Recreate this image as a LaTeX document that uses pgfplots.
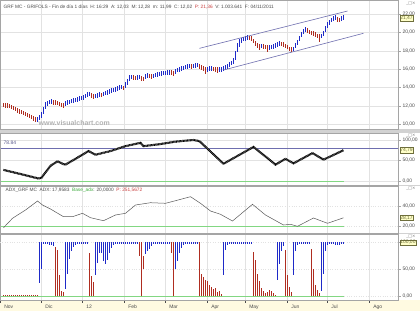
\documentclass[border=0pt]{standalone}
\usepackage{fontspec}
\setmainfont{Liberation Sans}
\newfontfamily\dv{DejaVu Sans}
\usepackage{pgfplots}
\usepackage{pgfplotstable}
\pgfplotsset{compat=1.18}
\definecolor{upc}{RGB}{30,42,200}
\definecolor{dnc}{RGB}{175,45,32}
\definecolor{chan}{RGB}{110,110,175}
\definecolor{grn}{RGB}{130,215,130}
\definecolor{grd}{RGB}{226,226,226}
\definecolor{bord}{RGB}{165,165,165}
\definecolor{boxf}{RGB}{255,255,200}
\definecolor{boxd}{RGB}{110,110,60}
\definecolor{txt}{RGB}{75,75,75}
\definecolor{strip}{RGB}{255,250,225}
\definecolor{sep}{RGB}{210,210,210}
\definecolor{red2}{RGB}{200,60,60}
\definecolor{grn2}{RGB}{60,170,60}

\pgfplotstableread{
x m d e
3 12.10 0 0.25
5 12.05 0 0.25
7 12.00 0 0.25
9 11.95 0 0.25
11 11.85 0 0.25
13 11.75 0 0.25
15 11.62 0 0.25
17 11.50 0 0.25
19 11.38 0 0.25
21 11.30 0 0.25
23 11.20 0 0.25
25 11.10 0 0.25
27 11.00 0 0.25
29 10.88 0 0.25
31 10.78 0 0.25
33 10.62 0 0.25
35 10.48 0 0.25
37 10.52 1 0.25
39 10.70 1 0.30
41 11.00 1 0.35
43 11.50 1 0.40
45 12.00 1 0.40
47 12.25 1 0.30
49 12.40 1 0.25
51 12.45 1 0.25
53 12.38 0 0.25
55 12.32 0 0.25
57 12.28 0 0.25
59 12.20 0 0.25
61 12.10 0 0.25
63 12.05 0 0.25
65 12.25 1 0.25
67 12.35 1 0.25
69 12.42 1 0.25
71 12.50 1 0.25
73 12.58 1 0.25
75 12.62 1 0.25
77 12.70 1 0.25
79 12.78 1 0.25
81 12.82 1 0.25
83 12.90 1 0.25
85 13.05 1 0.25
87 13.20 1 0.25
89 13.30 1 0.25
91 13.10 0 0.25
93 12.98 0 0.25
95 13.05 1 0.25
97 13.12 1 0.25
99 13.20 1 0.25
101 13.15 0 0.25
103 13.28 1 0.25
105 13.38 1 0.25
107 13.45 1 0.25
109 13.55 1 0.25
111 13.65 1 0.25
113 13.72 1 0.25
115 13.80 1 0.25
117 13.88 1 0.25
119 13.98 1 0.25
121 14.02 1 0.25
123 13.92 0 0.25
125 14.25 1 0.30
127 14.60 1 0.35
129 15.00 1 0.35
131 15.12 1 0.25
133 15.05 0 0.25
135 15.00 0 0.25
137 15.08 1 0.25
139 15.12 1 0.25
141 14.95 0 0.25
143 14.90 0 0.25
145 15.20 1 0.25
147 15.30 1 0.25
149 15.22 0 0.25
151 15.18 0 0.25
153 15.25 1 0.25
155 15.35 1 0.25
157 15.42 1 0.25
159 15.48 1 0.25
161 15.52 1 0.25
163 15.55 1 0.25
165 15.58 1 0.25
167 15.62 1 0.25
169 15.65 1 0.25
171 15.60 0 0.25
173 15.50 0 0.25
175 15.75 1 0.25
177 15.88 1 0.25
179 15.98 1 0.25
181 16.05 1 0.25
183 16.12 1 0.25
185 16.20 1 0.25
187 16.28 1 0.25
189 16.32 1 0.25
191 16.30 0 0.25
193 16.35 1 0.25
195 16.38 1 0.25
197 16.42 1 0.25
199 16.30 0 0.25
201 16.18 0 0.25
203 16.05 0 0.25
205 15.85 0 0.40
207 15.95 1 0.25
209 16.05 1 0.25
211 16.08 1 0.25
213 16.00 0 0.25
215 15.98 0 0.25
217 15.88 0 0.35
219 15.92 1 0.25
221 15.98 1 0.25
223 16.05 1 0.25
225 16.15 1 0.25
227 16.30 1 0.25
229 16.48 1 0.25
231 16.65 1 0.25
233 16.85 1 0.30
235 17.50 1 0.50
237 18.35 1 0.50
239 18.85 1 0.40
241 19.10 1 0.30
243 19.28 1 0.25
245 19.35 1 0.25
247 19.42 1 0.25
249 19.38 0 0.25
251 19.30 0 0.25
253 19.05 0 0.25
255 18.80 0 0.25
257 18.55 0 0.25
259 18.40 0 0.35
261 18.50 1 0.25
263 18.48 0 0.25
265 18.40 0 0.25
267 18.25 0 0.40
269 18.35 1 0.25
271 18.42 1 0.25
273 18.45 1 0.25
275 18.55 1 0.25
277 18.70 1 0.25
279 18.80 1 0.25
281 18.75 0 0.25
283 18.68 0 0.25
285 18.52 0 0.25
287 18.40 0 0.25
289 18.20 0 0.25
291 18.12 0 0.25
293 18.20 1 0.25
295 18.55 1 0.30
297 18.90 1 0.30
299 19.35 1 0.30
301 19.75 1 0.30
303 20.10 1 0.30
305 20.30 1 0.25
307 20.20 0 0.25
309 20.05 0 0.25
311 19.95 0 0.25
313 19.85 0 0.25
315 19.75 0 0.25
317 19.62 0 0.25
319 19.35 0 0.45
321 19.60 1 0.25
323 19.90 1 0.30
325 20.35 1 0.30
327 20.80 1 0.30
329 21.10 1 0.25
331 21.35 1 0.25
333 21.50 1 0.25
335 21.60 1 0.25
337 21.40 0 0.25
339 21.35 0 0.25
341 21.50 1 0.25
343 21.65 1 0.25
}\pricetab

% blue bars of the lower panel: they hang from 100 down to v
\pgfplotstableread{
x v
39 25
41 50
43 97
45 98
47 97
49 96
51 95
53 94
65 14
67 42
69 70
71 84
73 92
75 96
77 97
79 98
81 98
83 98
85 98
87 98
95 40
97 62
99 80
101 80
103 66
105 60
107 68
109 80
111 90
113 95
115 97
117 98
119 98
121 98
123 98
125 98
127 98
129 98
131 98
133 98
135 98
137 98
145 78
147 84
149 88
151 93
153 97
155 98
157 98
159 98
161 98
163 98
165 98
167 98
169 98
175 50
177 65
179 80
181 90
183 95
185 97
187 98
189 98
191 98
193 98
195 98
197 98
223 40
225 86
227 96
229 98
231 98
233 98
235 98
237 98
239 98
241 98
243 98
245 98
247 98
249 98
251 98
277 30
279 60
281 85
283 94
293 40
295 85
297 96
299 98
301 98
303 98
305 98
307 98
309 98
321 10
323 42
325 85
327 95
329 98
331 97
333 98
335 96
337 95
339 96
341 98
343 98
}\bluetab

% brown segments that do not reach the zero line
\pgfplotstableread{
x lo hi
139 75 100
143 51 75
171 80 100
}\browntab

\pgfplotsset{
  panel/.style={
    scale only axis, width=398bp, xmin=-0.5, xmax=397.5,
    anchor=north west,
    axis line style={bord},
    xtick={0,41,82,124,165,207,245,287,327,369},
    xticklabels={},
    xtick pos=left,
    xtick style={draw=none},
    xmajorgrids, ymajorgrids,
    major grid style={grd},
    ytick pos=right, yticklabel pos=right,
    tick align=outside, major tick length=2.5bp,
    ytick style={bord},
    yticklabel style={font=\fontsize{5}{6}\selectfont, text=txt, xshift=-1.5pt},
    /pgf/number format/fixed, /pgf/number format/fixed zerofill,
    /pgf/number format/precision=2, /pgf/number format/use comma,
    /pgf/number format/assume math mode=true,
    clip mode=individual,
  },
}
\tikzset{
  vbox/.style={anchor=west, fill=boxf, draw=boxd, line width=0.4pt, inner sep=0.6pt,
    font=\fontsize{5}{6}\selectfont, text=boxd},
}

\begin{document}
\begin{tikzpicture}
\fill[white] (0bp,0bp) rectangle (420bp,-311bp);
\useasboundingbox (0bp,0bp) rectangle (420bp,-311bp);
\fill[sep] (0bp,-129bp) rectangle (420bp,-133bp);
\fill[sep] (0bp,-185bp) rectangle (420bp,-186bp);
\fill[sep] (0bp,-233bp) rectangle (420bp,-234bp);
\fill[strip] (0bp,-300bp) rectangle (420bp,-311bp);

% ---------- price panel ----------
\begin{axis}[panel, at={(0bp,0bp)}, height=129bp,
  ymin=9.46, ymax=23.53, ytick={10,12,...,22}]
\addplot[draw=none, mark=none, restrict y to domain=0:40,
  error bars/.cd, y dir=both, y explicit, error mark=none,
  error bar style={draw=upc, solid, line width=1.1bp}]
  table[x=x, y expr=\thisrow{m}+100*(1-\thisrow{d}), y error=e] {\pricetab};
\addplot[draw=none, mark=none, restrict y to domain=0:40,
  error bars/.cd, y dir=both, y explicit, error mark=none,
  error bar style={draw=dnc, solid, line width=1.1bp}]
  table[x=x, y expr=\thisrow{m}+100*\thisrow{d}, y error=e] {\pricetab};
\addplot[chan, line width=0.6pt] coordinates {(199,18.26)(347,22.33)};
\addplot[chan, line width=0.6pt] coordinates {(223,15.89)(363,19.90)};
\node[anchor=west, font=\fontsize{4.8}{6}\selectfont, text=txt, inner sep=0pt] at (axis cs:3,22.76)
  {GRF MC - GRIFOLS - Fin de día 1 días\ \ H: 16:29\ \ A: 12,03\ \ M: 12,28\ \ m: 11,99\ \ C: 12,02\ \ \textcolor{red2}{P: 21,36}\ \ V: 1.003.641\ \ F: 04/11/2011};
\node[anchor=west, font=\bfseries\fontsize{7}{8}\selectfont, text=black!30, inner sep=0pt] at (axis cs:38,10.1) {www.visualchart.com};
\node[vbox] at (axis cs:399,21.55) {21,47};
\end{axis}

% ---------- oscillator panel ----------
\begin{axis}[panel, at={(0bp,-133bp)}, height=52bp,
  ymin=-9.8, ymax=117, ytick={0,50,100}]
\addplot[chan, line width=0.6pt] coordinates {(0,78.84)(398,78.84)};
\addplot[grn, line width=0.8pt] coordinates {(0,0)(343,0)};
\addplot[black!50, line width=2pt] coordinates {
(3,27)(20,17)(38,6)(41,8)(45,21)(50,37)(57,48)(63,41)(65,40)(75,54)(88,73)(95,64)(110,73)(125,85)(140,93)(143,85)(160,90)(175,96)(193,100)(199,97)(223,42)(253,83)(275,40)(285,54)(293,43)(312,68)(323,52)(343,75)};
\addplot[black, line width=2pt, dash pattern=on 0.7pt off 0.7pt] coordinates {
(3,27)(20,17)(38,6)(41,8)(45,21)(50,37)(57,48)(63,41)(65,40)(75,54)(88,73)(95,64)(110,73)(125,85)(140,93)(143,85)(160,90)(175,96)(193,100)(199,97)(223,42)(253,83)(275,40)(285,54)(293,43)(312,68)(323,52)(343,75)};
\node[anchor=west, font=\fontsize{5}{6}\selectfont, text=chan!80!black, inner sep=0pt] at (axis cs:3,92) {78.84};
\node[vbox] at (axis cs:399,74.79) {74,79};
\end{axis}

% ---------- ADX panel ----------
\begin{axis}[panel, at={(0bp,-186bp)}, height=47bp,
  ymin=13, ymax=60, ytick={20,40}, major y grid style={grd, dotted}]
\addplot[grn, line width=0.8pt] coordinates {(0,20)(343,20)};
\addplot[black!65, line width=0.5pt] coordinates {
(3,18.3)(12,27.7)(25,36)(37,45)(42,41)(50,37)(63,29.3)(72,29.3)(82,32.7)(90,28.3)(103,25.3)(115,31)(125,32.7)(135,41)(150,43.3)(165,42.7)(175,45.3)(190,49.3)(200,42.7)(210,35)(220,31.7)(232,25)(252,41.7)(265,31)(283,21)(290,21.7)(297,19.7)(313,28)(327,22.7)(343,28.2)};
\node[anchor=west, font=\fontsize{4.8}{6}\selectfont, text=txt, inner sep=0pt] at (axis cs:5,56)
  {ADX\_GRF MC\ \ ADX: 17,9583\ \ \textcolor{grn2}{Base\_adx}: 20,0000\ \ \textcolor{red2}{P: 251,5672}};
\node[vbox] at (axis cs:399,28.17) {28,17};
\end{axis}

% ---------- bar panel ----------
\begin{axis}[panel, at={(0bp,-234bp)}, height=66bp,
  ymin=-6.5, ymax=115.7, ytick={0,50}, extra y ticks={100}, extra y tick labels={},
  extra y tick style={ymajorgrids, major grid style={grd, dotted}},
  major y grid style={grd, dotted},
  xtick style={draw=txt},
  xticklabels={Nov,Dic,12,Feb,Mar,Apr,May,Jun,Jul,Ago},
  xticklabel style={anchor=north west, font=\fontsize{5}{6}\selectfont, text=txt, xshift=0.3pt, yshift=1pt}]
\addplot[grn, line width=0.8pt] coordinates {(0,0)(343,0)};
\addplot[draw=none, mark=none,
  error bars/.cd, y dir=both, y explicit, error mark=none,
  error bar style={draw=upc, solid, line width=1.2bp}]
  table[x=x, y expr=(\thisrow{v}+100)/2, y error expr=(100-\thisrow{v})/2] {\bluetab};
\addplot[draw=none, mark=none,
  error bars/.cd, y dir=both, y explicit, error mark=none,
  error bar style={draw=dnc, solid, line width=1.2bp}]
  table[x=x, y expr=(\thisrow{lo}+\thisrow{hi})/2, y error expr=(\thisrow{hi}-\thisrow{lo})/2] {\browntab};
\addplot[ycomb, draw=dnc, line width=1.2bp, mark=none] coordinates {
(3,2)(5,2)(7,2)(9,2)(11,2)(13,2)(15,2)(17,2)(19,2)(21,2)(23,2)(25,2)(27,2)(29,2)(31,2)(33,2)(35,2)(37,2)
(55,92)(57,86)(59,40)(61,10)(63,8)
(89,80)(91,38)(93,26)
(141,100)
(173,100)
(199,100)(201,42)(203,36)(205,30)(207,28)(209,22)(211,18)(213,13)(215,16)(217,8)(219,10)(221,4)
(253,82)(255,68)(257,42)(259,28)(261,16)(263,10)(265,6)(267,8)(269,12)(271,10)(273,6)(275,3)
(285,86)(287,40)(289,18)(291,8)
(311,88)(313,50)(315,22)(317,12)(319,6)};
\node[vbox] at (axis cs:399,100) {100,00};
\end{axis}

% window buttons
\foreach \yy in {4,136,189,237}{
  \node[font=\dv\fontsize{4}{4}\selectfont, text=black!55, inner sep=0pt] at (411bp,-\yy bp) {\_□×};
}
\end{tikzpicture}
\end{document}
